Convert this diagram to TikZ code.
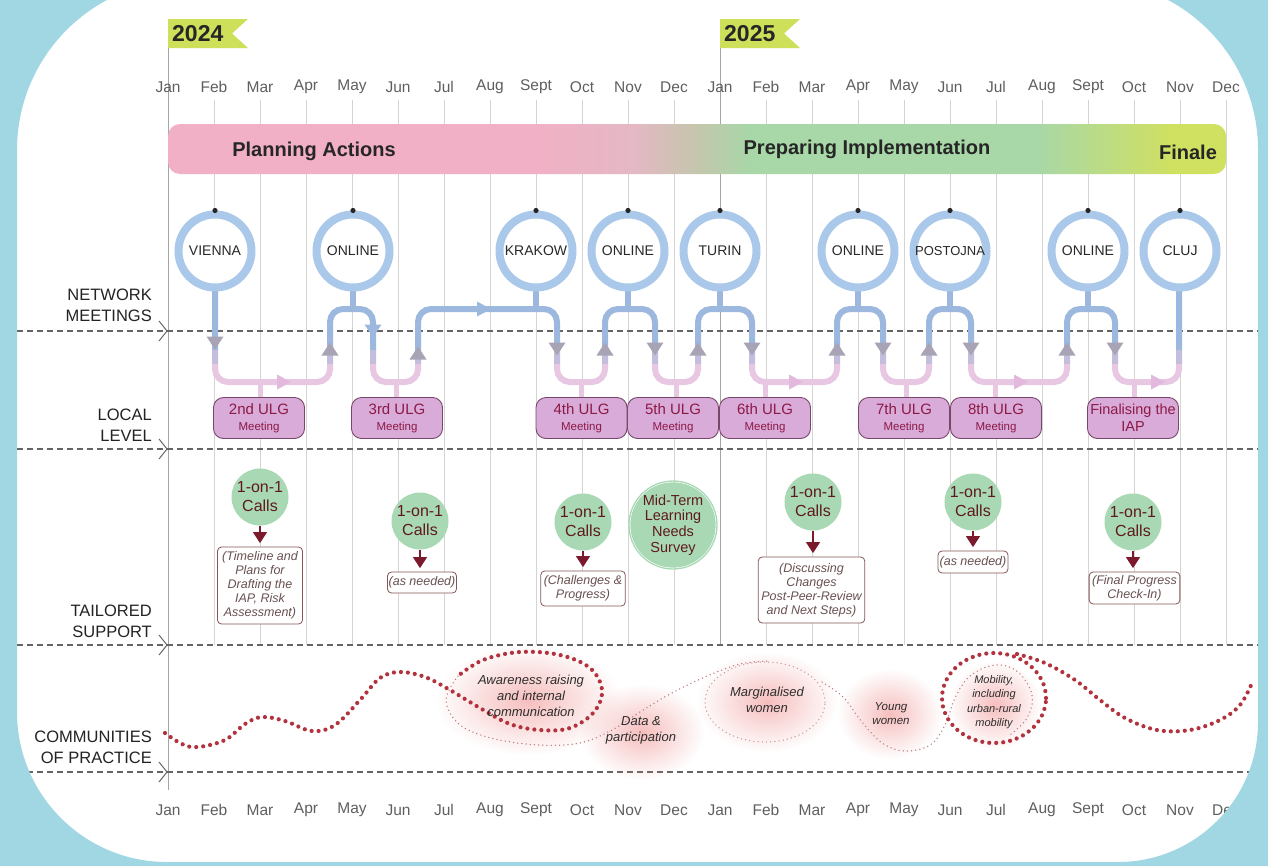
\documentclass[tikz,border=0pt]{standalone}
\usepackage{fontspec}
\setmainfont{Liberation Sans}
\usetikzlibrary{fadings,arrows.meta}
\definecolor{bgblue}{RGB}{161,215,227}
\definecolor{flagc}{RGB}{206,224,90}
\definecolor{gridc}{RGB}{212,212,212}
\definecolor{janc}{RGB}{165,165,165}
\definecolor{montext}{RGB}{95,95,95}
\definecolor{rowtext}{RGB}{35,35,35}
\definecolor{bandpink}{RGB}{241,176,197}
\definecolor{bandmixa}{RGB}{228,184,196}
\definecolor{bandmixb}{RGB}{196,198,172}
\definecolor{bandgreen}{RGB}{168,215,168}
\definecolor{bandlime}{RGB}{208,224,96}
\definecolor{dashc}{RGB}{100,100,100}
\definecolor{ringblue}{RGB}{170,201,234}
\definecolor{nettext}{RGB}{40,40,40}
\definecolor{flowblue}{RGB}{156,184,222}
\definecolor{flowmid}{RGB}{196,190,222}
\definecolor{flowpink}{RGB}{232,199,226}
\definecolor{arrowgrey}{RGB}{168,164,182}
\definecolor{arrowpink}{RGB}{226,185,220}
\definecolor{ulgfill}{RGB}{217,171,217}
\definecolor{ulgbd}{RGB}{120,70,105}
\definecolor{ulgtext}{RGB}{140,25,70}
\definecolor{callg}{RGB}{168,217,180}
\definecolor{calltext}{RGB}{95,25,30}
\definecolor{callred}{RGB}{122,26,44}
\definecolor{notebd}{RGB}{135,85,85}
\definecolor{notetext}{RGB}{105,80,80}
\definecolor{dotred}{RGB}{178,50,62}
\definecolor{thindotc}{RGB}{190,120,125}
\definecolor{glowc}{RGB}{242,155,155}
\definecolor{comtext}{RGB}{45,45,45}
\pgfdeclarehorizontalshading{bandsh}{100bp}{color(0bp)=(bandpink); color(25bp)=(bandpink); color(42.5bp)=(bandpink); color(47bp)=(bandmixa); color(50bp)=(bandmixb); color(52.5bp)=(bandgreen); color(66bp)=(bandgreen); color(72.5bp)=(bandlime); color(100bp)=(bandlime)}
\tikzfading[name=glowfade, inner color=transparent!35, outer color=transparent!100]
\newcommand\fsz[2]{\fontsize{#1}{#2}\selectfont}
\newcommand\flowdown[3]{\fill[#1] (#2-8.5,#3-6.5) -- (#2+8.5,#3-6.5) -- (#2,#3+6.5) -- cycle;}
\newcommand\flowup[3]{\fill[#1] (#2-8.5,#3+6.5) -- (#2+8.5,#3+6.5) -- (#2,#3-6.5) -- cycle;}
\newcommand\flowright[3]{\fill[#1] (#2-7,#3-7.5) -- (#2-7,#3+7.5) -- (#2+7,#3) -- cycle;}
\tikzset{
 gridl/.style={draw=gridc, line width=0.8pt},
 janl/.style={draw=janc, line width=1pt},
 mon/.style={font=\fsz{15.5}{18}, text=montext},
 rowlab/.style={font=\fsz{16.5}{21}, text=rowtext, align=right, anchor=east, inner sep=0pt},
 yeartxt/.style={font=\fsz{23}{25}\bfseries, text=black!85, inner sep=0pt},
 bandtxt/.style={font=\fsz{20}{22}\bfseries, text=black!85},
 dashl/.style={draw=dashc, line width=1.3pt, dash pattern=on 6pt off 4pt},
 chev/.style={draw=dashc, line width=1pt},
 netc/.style={circle, draw=ringblue, line width=8pt, fill=white, minimum size=73pt, inner sep=0pt, font=\fsz{14}{16}, text=nettext},
 flow/.style={line width=6pt, rounded corners=13pt},
 ulg/.style={draw=ulgbd, fill=ulgfill, rounded corners=10pt, minimum width=91pt, minimum height=41pt, inner sep=0pt, align=center, text=ulgtext, line width=0.9pt},
 call/.style={circle, fill=callg, minimum size=57pt, inner sep=0pt, align=center, text=calltext, font=\fsz{16}{19}},
 note/.style={draw=notebd, fill=white, rounded corners=4pt, line width=0.8pt, align=center, text=notetext, font=\fsz{12.5}{14}\itshape, inner sep=3pt},
 callarr/.style={draw=callred, line width=1.1pt, -{Triangle[width=14pt,length=11pt]}},
 thickdot/.style={draw=dotred, line width=4.2pt, line cap=round, dash pattern=on 0pt off 7pt},
 thindot/.style={draw=thindotc, line width=1.5pt, line cap=round, dash pattern=on 0pt off 4.2pt},
 comtxt/.style={font=\fsz{13}{16}\itshape, text=comtext, align=center, inner sep=0pt},
}
\newcommand\ulgtxt[1]{\fsz{15}{16}#1\\[4pt]\fsz{11.5}{13}Meeting}
\begin{document}
\begin{tikzpicture}[x=1pt,y=-1pt]
\useasboundingbox (0,0) rectangle (1268,865);
\fill[white] (0,0) rectangle (1268,865);

% grid lines
\foreach \i in {1,...,11,13,14,...,23} {\draw[gridl] (168+46*\i,100) -- (168+46*\i,645);}
\draw[janl] (168,48) -- (168,790);
\draw[janl] (720,48) -- (720,645);

% year flags
\fill[flagc] (168,19) -- (248,19) -- (232,33.5) -- (248,48) -- (168,48) -- cycle;
\node[yeartxt, anchor=west] (y24) at (172,34) {2024};
\fill[flagc] (720,19) -- (800,19) -- (784,33.5) -- (800,48) -- (720,48) -- cycle;
\node[yeartxt, anchor=west] (y25) at (724,34) {2025};

% month labels
\foreach \m [count=\i from 0] in {Jan,Feb,Mar,Apr,May,Jun,Jul,Aug,Sept,Oct,Nov,Dec,Jan,Feb,Mar,Apr,May,Jun,Jul,Aug,Sept,Oct,Nov,Dec}{
  \node[mon] (mt\i) at (168+46*\i,87) {\m};
  \node[mon] (mb\i) at (168+46*\i,810) {\m};
}

% phase band
\shade[shading=bandsh, rounded corners=12pt] (168,124) rectangle (1226,174);
\node[bandtxt] (ph1) at (314,151) {Planning Actions};
\node[bandtxt] (ph2) at (867,149) {Preparing Implementation};
\node[bandtxt] (ph3) at (1188,152) {Finale};

% row labels
\node[rowlab] (rl1) at (152,305.5) {NETWORK\\MEETINGS};
\node[rowlab] (rl2) at (152,425) {LOCAL\\LEVEL};
\node[rowlab] (rl3) at (152,621) {TAILORED\\SUPPORT};
\node[rowlab] (rl4) at (152,747.5) {COMMUNITIES\\OF PRACTICE};

% dashed separators
\foreach \y in {331,449,645,772} {
  \draw[dashl] (17,\y) -- (1258,\y);
  \draw[chev] (159,\y-10) -- (167,\y) -- (159,\y+10);
}

% flow line network <-> local
\foreach \c/\ya/\yb in {flowblue/0/350, flowmid/350/364, flowpink/364/865}{
  \begin{scope}
    \clip (0,\ya) rectangle (1268,\yb);
    \draw[flow, draw=\c] (215,288) -- (215,382) -- (330,382) -- (330,309) -- (373,309) -- (373,382) -- (418,382) -- (418,309) -- (557,309) -- (557,382) -- (605,382) -- (605,309) -- (655,309) -- (655,382) -- (698,382) -- (698,309) -- (752,309) -- (752,382) -- (837,382) -- (837,309) -- (883,309) -- (883,382) -- (929,382) -- (929,309) -- (971,309) -- (971,382) -- (1067,382) -- (1067,309) -- (1115,309) -- (1115,382) -- (1179,382) -- (1179,288);
  \end{scope}
}
\foreach \x in {353,536,628,720,858,950,1088} {\draw[line width=6pt, draw=flowblue] (\x,285) -- (\x,309);}
\foreach \x in {260,396,581,676,765,906,995,1134} {\draw[line width=5pt, draw=flowpink] (\x,382) -- (\x,399);}

% arrowheads on the flow
\flowdown{arrowgrey}{215}{343}
\flowdown{flowblue}{373}{331}
\foreach \x in {557,655,752,883,971,1115} {\flowdown{arrowgrey}{\x}{349}}
\flowup{arrowgrey}{418}{353}
\foreach \x in {330,605,698,837,929,1067} {\flowup{arrowgrey}{\x}{349}}
\flowright{arrowpink}{284}{382}
\flowright{flowblue}{484}{309}
\flowright{arrowpink}{796}{382}
\flowright{arrowpink}{1021}{382}
\flowright{arrowpink}{1158}{382}

% network meetings
\node[netc] (nm1) at (215,251) {VIENNA};
\node[netc] (nm2) at (353,251) {ONLINE};
\node[netc] (nm3) at (536,251) {KRAKOW};
\node[netc] (nm4) at (628,251) {ONLINE};
\node[netc] (nm5) at (720,251) {TURIN};
\node[netc] (nm6) at (858,251) {ONLINE};
\node[netc, font=\fsz{13}{15}] (nm7) at (950,251) {POSTOJNA};
\node[netc] (nm8) at (1088,251) {ONLINE};
\node[netc] (nm9) at (1180,251) {CLUJ};
\foreach \n in {nm1,nm2,nm3,nm4,nm5,nm6,nm7,nm8,nm9} {\fill[black!85] (\n.north) circle (2.6pt);}

% local level meetings
\node[ulg] (u2) at (259,418) {\ulgtxt{2nd ULG}};
\node[ulg] (u3) at (397,418) {\ulgtxt{3rd ULG}};
\node[ulg] (u4) at (581.5,418) {\ulgtxt{4th ULG}};
\node[ulg] (u5) at (673,418) {\ulgtxt{5th ULG}};
\node[ulg] (u6) at (765,418) {\ulgtxt{6th ULG}};
\node[ulg] (u7) at (904,418) {\ulgtxt{7th ULG}};
\node[ulg] (u8) at (996,418) {\ulgtxt{8th ULG}};
\node[ulg] (u9) at (1133,418) {\fsz{14.5}{16}Finalising the\\[3pt]\fsz{14.5}{16}IAP};

% tailored support
\node[call] (c1) at (260,497) {1-on-1\\Calls};
\node[note, minimum width=85pt, minimum height=77pt] (n1) at (260,585.5) {(Timeline and\\Plans for\\Drafting the\\IAP, Risk\\Assessment)};
\node[call] (c2) at (420,521) {1-on-1\\Calls};
\node[note, minimum width=69pt, minimum height=21pt, inner sep=1pt] (n2) at (422,582.5) {(as needed)};
\node[call] (c3) at (583,522) {1-on-1\\Calls};
\node[note, minimum width=75pt, minimum height=35pt] (n3) at (583,588.5) {(Challenges \&\\Progress)};
\node[call, minimum size=76pt, font=\fsz{14.5}{15.7}] (sv) at (673,525) {Mid-Term\\Learning\\Needs\\Survey};
\draw[draw=callg, line width=1.3pt] (sv.center) circle (44pt);
\node[call] (c4) at (813,502) {1-on-1\\Calls};
\node[note, minimum width=91pt, minimum height=66pt] (n4) at (811.5,590) {(Discussing\\Changes\\Post-Peer-Review\\and Next Steps)};
\node[call] (c5) at (973,502) {1-on-1\\Calls};
\node[note, minimum width=70pt, minimum height=22pt, inner sep=1pt] (n5) at (973,562) {(as needed)};
\node[call] (c6) at (1133,522) {1-on-1\\Calls};
\node[note, minimum width=85pt, minimum height=32pt] (n6) at (1134.5,588) {(Final Progress\\Check-In)};
\foreach \a/\b in {c1/n1,c2/n2,c3/n3,c4/n4,c5/n5,c6/n6} {\draw[callarr] (\a.south) -- ([yshift=3.5pt]\a.south |- \b.north);}

% communities of practice: glows
\fill[glowc, path fading=glowfade] (528,700) ellipse [x radius=92pt, y radius=55pt];
\fill[glowc, path fading=glowfade] (642,732) ellipse [x radius=62pt, y radius=48pt];
\fill[glowc, path fading=glowfade] (767,702) ellipse [x radius=70pt, y radius=50pt];
\fill[glowc, path fading=glowfade] (890,714) ellipse [x radius=52pt, y radius=45pt];
\fill[glowc, path fading=glowfade] (995,705) ellipse [x radius=46pt, y radius=44pt];

% dotted line
\draw[thickdot] plot[smooth, tension=0.6] coordinates {(165,733) (182,744) (198,747) (225,740) (245,724) (262,717) (285,721) (312,731) (335,725) (360,700) (380,678) (400,672) (425,677) (450,690) (480,708) (510,724) (540,730) (570,728) (594,712) (602,690) (590,668) (560,655) (520,652) (483,660) (458,676)};
\draw[thindot] plot[smooth, tension=0.6] coordinates {(458,676) (446,700) (460,725) (495,739) (540,745) (580,743) (612,730) (640,712) (670,694) (705,677) (740,664) (770,661)};
\draw[thindot, draw=thindotc!75] (765,702) ellipse [x radius=60pt, y radius=40pt];
\draw[thindot] plot[smooth, tension=0.6] coordinates {(822,682) (843,697) (862,722) (882,743) (905,751) (930,745) (945,725) (955,698) (970,676) (995,665) (1018,672) (1032,695) (1027,718) (1010,735)};
\draw[thickdot] (994,698) ellipse [x radius=52pt, y radius=45pt];
\draw[thickdot] plot[smooth, tension=0.6] coordinates {(1017,654) (1045,663) (1075,680) (1100,700) (1125,718) (1157,730) (1190,730) (1220,720) (1240,705) (1252,683)};

% communities texts
\node[comtxt] (t1) at (531,696) {Awareness raising\\and internal\\communication};
\node[comtxt] (t2) at (641,730) {Data \&\\participation};
\node[comtxt] (t3) at (767,700) {Marginalised\\women};
\node[comtxt, font=\fsz{11.5}{14}\itshape] (t4) at (891,714) {Young\\women};
\node[comtxt, font=\fsz{11}{14.5}\itshape] (t5) at (994,702) {Mobility,\\including\\urban-rural\\mobility};

% outer frame
\fill[bgblue, even odd rule] (-5,-5) rectangle (1273,870)
  (17,400) [rounded corners=170pt] -- (17,-20) -- (1258,-20) -- (1258,500) [rounded corners=140pt] -- (1258,862) -- (600,862) [rounded corners=150pt] -- (17,862) -- cycle;
\end{tikzpicture}
\end{document}
